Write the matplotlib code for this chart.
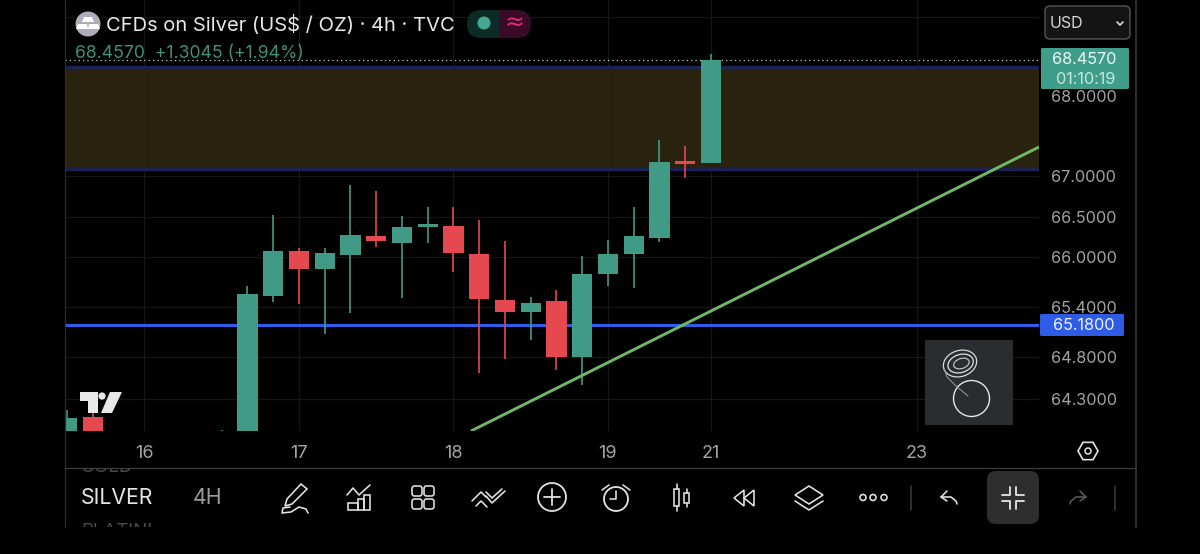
import matplotlib
matplotlib.use("Agg")
import matplotlib.pyplot as plt
from matplotlib.patches import Rectangle, FancyBboxPatch, Circle, Ellipse, Polygon, RegularPolygon
from matplotlib.ticker import NullLocator, NullFormatter

plt.rcParams['font.family'] = ['Inter', 'DejaVu Sans']

# ---- data (4h bars; index 0 = first bar of the 17th) ----
bar_index = [-9, -8, -3, -2, -1, 0, 1, 2, 3, 4, 5, 6, 7, 8, 9, 10, 11, 12, 13, 14, 15, 16]
opens  = [63.50, 64.079, 63.60, 63.50, 65.529, 66.080, 65.864, 66.035, 66.259, 66.181, 66.377, 66.389, 66.047, 65.484, 65.336, 65.469, 64.799, 65.800, 66.043, 66.239, 67.185, 67.159]
closes = [64.073, 63.50, 63.85, 65.555, 66.080, 65.864, 66.055, 66.275, 66.198, 66.373, 66.407, 66.059, 65.493, 65.343, 65.444, 64.799, 65.803, 66.047, 66.267, 67.176, 67.155, 68.457]
highs  = [64.168, 64.132, 63.931, 65.650, 66.521, 66.113, 66.113, 66.887, 66.820, 66.512, 66.615, 66.623, 66.459, 66.198, 65.524, 65.605, 66.015, 66.214, 66.619, 67.449, 67.378, 68.530]
lows   = [63.50, 63.50, 63.50, 63.50, 65.464, 65.432, 65.078, 65.331, 66.132, 65.505, 66.174, 65.827, 64.602, 64.775, 64.999, 64.647, 64.465, 65.650, 65.626, 66.190, 66.981, 67.159]

price_ticks = [64.3, 64.8, 65.4, 66.0, 66.5, 67.0, 68.0, 69.0]
price_labels = ['64.3000', '64.8000', '65.4000', '66.0000', '66.5000', '67.0000', '68.0000', '']
date_pos = [-6, 0, 6, 12, 16, 24]
date_labels = ['16', '17', '18', '19', '21', '23']

zone_low, zone_high = 67.084, 68.366
support_level = 65.18
last_price = 68.457
trend_x = [6.68, 28.74]
trend_y = [63.917, 67.362]

GREEN = '#419a86'
RED = '#e5484f'
GRID = '#171717'
LABEL = '#a3a3a3'
ICON = '#e4e4e4'
W, H = 1200, 554

fig = plt.figure(figsize=(W / 100, H / 100), dpi=100, facecolor='black')
ax = fig.add_axes([65 / W, 1 - 431 / H, (1039 - 65) / W, 431 / H], facecolor='black')
ax.set_yscale('log')
ax.set_xlim(-9.087, 28.738)
ax.set_ylim(63.917, 69.217)

ax.grid(True, color=GRID, lw=0.9, zorder=1)
ax.set_axisbelow(True)
ax.axhspan(zone_low, zone_high, facecolor='#2e2611', edgecolor='none', alpha=0.9, zorder=1.5)
for lvl in (zone_low, zone_high):
    ax.axhline(lvl, color='#1b2152', lw=2.4, zorder=1.6)

ax.set_xticks(date_pos, date_labels)
ax.set_yticks(price_ticks, price_labels)
ax.yaxis.set_minor_locator(NullLocator())
ax.yaxis.set_minor_formatter(NullFormatter())
ax.yaxis.tick_right()
ax.tick_params(axis='y', length=0, pad=9, labelsize=11.7, labelcolor=LABEL)
ax.tick_params(axis='x', length=0, pad=10, labelsize=13, labelcolor=LABEL)
for s in ax.spines.values():
    s.set_visible(False)

ax.axhline(support_level, color='#2f5ce6', lw=2.2, zorder=2)
ax.axhline(last_price, color='#a8d8cc', lw=0.9, ls=(0, (1, 2.5)), zorder=2)

for x, o, c, h, l in zip(bar_index, opens, closes, highs, lows):
    col = GREEN if c >= o else RED
    ax.vlines(x, l, h, color=col, lw=1.2, zorder=3)
    ax.bar(x, abs(c - o), bottom=min(o, c), width=0.78, color=col, lw=0, zorder=4)

ax.plot(trend_x, trend_y, color='#6fb863', lw=2.1, zorder=5, solid_capstyle='butt')

# ---- interface overlay in pixel coordinates ----
ui = fig.add_axes([0, 0, 1, 1], facecolor='none')
ui.set_xlim(0, W)
ui.set_ylim(H, 0)
ui.axis('off')


def ln(xs, ys, c=ICON, lw=1.15, **kw):
    ui.plot(xs, ys, color=c, lw=lw, solid_capstyle='round', solid_joinstyle='round', **kw)


def rbox(x0, y0, x1, y1, r, fc, ec='none', lw=0, **kw):
    p = FancyBboxPatch((x0 + r, y0 + r), x1 - x0 - 2 * r, y1 - y0 - 2 * r,
                       boxstyle=f'round,pad={r},rounding_size={r}', fc=fc, ec=ec, lw=lw, **kw)
    ui.add_patch(p)
    return p


ln([65, 65], [0, 527], '#2c2c2c', 0.9)
ln([1136, 1136], [0, 527], '#383838', 1.2)
ln([65, 1136], [468, 468], '#3d3d3d', 0.9)

# header
ui.add_patch(Circle((88, 24), 12.5, fc='#aeadb9', ec='none'))
ui.add_patch(Polygon([[84, 17], [92, 17], [94, 22], [82, 22]], fc='white'))
ui.add_patch(Polygon([[78, 24], [87, 24], [88, 29], [76, 29]], fc='white'))
ui.add_patch(Polygon([[89, 24], [98, 24], [100, 29], [88, 29]], fc='white'))
ui.text(106, 24.5, 'CFDs on Silver (US$ / OZ) · 4h · TVC', color='#e8e8e8', fontsize=14.5, va='center', ha='left')
ui.text(75, 53.5, '68.4570  +1.3045 (+1.94%)', color='#3f8f7c', fontsize=12.7, va='center', ha='left')

clipL = Rectangle((467, 9), 32, 30, transform=ui.transData)
clipR = Rectangle((499, 9), 34, 30, transform=ui.transData)
rbox(467, 10, 531, 38, 14, '#0c2b25').set_clip_path(clipL)
rbox(467, 10, 531, 38, 14, '#3a0a26').set_clip_path(clipR)
ui.add_patch(Circle((484, 23), 6.5, fc='#45a890', ec='none'))
ui.text(514, 23, '≈', color='#d92f72', fontsize=17, va='center', ha='center', family='DejaVu Sans')

# currency box
rbox(1045, 6, 1130, 39, 5, '#141414', ec='#565656', lw=1)
ui.text(1050, 23, 'USD', color='#d6d6d6', fontsize=11.5, va='center', ha='left')
ln([1117, 1120, 1123], [22, 25, 22], '#dddddd', 1.2)

# price tags
rbox(1041, 48, 1129, 89, 1.5, '#3f9e8a')
ui.text(1084, 60, '68.4570', color='#eef8f5', fontsize=11.7, va='center', ha='center')
ui.text(1086, 79, '01:10:19', color='#c8e6df', fontsize=11.7, va='center', ha='center')
rbox(1040, 314, 1124, 336, 1.5, '#2f5ce6')
ui.text(1084, 325.5, '65.1800', color='#eef2ff', fontsize=11.7, va='center', ha='center')

# TradingView mark
ui.add_patch(Polygon([[80, 392], [98, 392], [98, 413], [88, 413], [88, 401], [80, 401]], fc='#e8e8e8', ec='none', zorder=6))
ui.add_patch(Circle((102, 396), 3.6, fc='#e8e8e8', ec='none', zorder=6))
ui.add_patch(Polygon([[110, 392], [122, 392], [112, 413], [101, 413]], fc='#e8e8e8', ec='none', zorder=6))

# avatar
ui.add_patch(Rectangle((925, 340), 88, 85, fc='#2b2c2f', ec='none'))
ui.add_patch(Circle((971.5, 398.5), 18, fc='none', ec='#e6e6e6', lw=1.0))
for w, h_, c in ((34, 26, '#d8d8d8'), (26, 18, '#e2e2e2'), (16, 10, '#bdbdbd')):
    ui.add_patch(Ellipse((960 + (34 - w) * 0.08, 363.5), w, h_, angle=-18, fc='none', ec=c, lw=0.9))
ln([944, 947, 956, 968], [368, 377, 386, 396], '#9a9a9a', 0.7)

# settings hexagon
ui.add_patch(RegularPolygon((1088, 451), 6, radius=10, orientation=0.5236, fc='none', ec=ICON, lw=1.2))
ui.add_patch(Circle((1088, 451), 3, fc='none', ec=ICON, lw=1.1))

# symbol list
t = ui.text(81, 468, 'GOLD', color='#4a4a4a', fontsize=13.5, va='center', ha='left', clip_on=True)
t.set_clip_path(Rectangle((65, 469), 140, 58, transform=ui.transData))
t = ui.text(81, 531, 'PLATINUM', color='#4a4a4a', fontsize=13.5, va='center', ha='left', clip_on=True)
t.set_clip_path(Rectangle((65, 469), 88, 58, transform=ui.transData))
ui.text(81, 498, 'SILVER', color='#e6e6e6', fontsize=15.3, va='center', ha='left')
ui.text(193, 498, '4H', color='#9a9a9a', fontsize=15.3, va='center', ha='left')

# pen
ui.add_patch(Polygon([[301, 484], [307, 489], [292, 504], [285, 506], [287, 499]], fc='none', ec=ICON, lw=1.15))
ln([290, 283, 282, 291, 299, 306, 308], [507, 508, 513, 512, 507, 509, 513])
# chart + bars
ln([347, 353, 359, 370], [495, 488, 495, 485])
for x0, x1, y0 in ((348, 358, 503), (358, 364, 499), (364, 370, 495)):
    ui.add_patch(Rectangle((x0, y0), x1 - x0, 509.5 - y0, fc='none', ec=ICON, lw=1.15))
# grid
for cx in (417, 429):
    for cy in (491, 504):
        ui.add_patch(FancyBboxPatch((cx - 3, cy - 3), 6, 6, boxstyle='round,pad=2,rounding_size=2.5', fc='none', ec=ICON, lw=1.15))
# indicators zig-zag
ln([472, 481, 486], [501, 492, 497])
ln([476, 481, 487], [506, 501, 507])
ln([486, 492, 502], [492, 498, 489])
ln([486, 492, 505], [496, 503, 491])
# plus
ui.add_patch(Circle((552, 497), 14, fc='none', ec=ICON, lw=1.3))
ln([544, 560], [497, 497], lw=1.3)
ln([552, 552], [489, 505], lw=1.3)
# alarm
ui.add_patch(Circle((616, 499), 12, fc='none', ec=ICON, lw=1.3))
ln([616, 616, 610], [491, 499, 499])
ln([602, 609], [490, 485])
ln([630, 623], [490, 485])
# candles
ui.add_patch(Rectangle((674, 489), 5, 17, fc='none', ec=ICON, lw=1.15))
ln([676.5, 676.5], [484, 489])
ln([676.5, 676.5], [506, 511])
ui.add_patch(Rectangle((684, 493), 5, 10, fc='none', ec=ICON, lw=1.15))
ln([686.5, 686.5], [489, 493])
ln([686.5, 686.5], [503, 507])
# rewind
ui.add_patch(Polygon([[734, 498], [744, 490], [744, 506]], fc='none', ec=ICON, lw=1.15))
ui.add_patch(Polygon([[744, 498], [754, 490], [754, 506]], fc='none', ec=ICON, lw=1.15))
# layers
ui.add_patch(Polygon([[795, 495], [809, 486], [823, 495], [809, 504]], fc='none', ec=ICON, lw=1.15))
ln([795, 809, 823], [501, 510, 501])
# more
for cx in (863, 873, 884):
    ui.add_patch(Circle((cx, 497.5), 3, fc='none', ec=ICON, lw=1.15))
ln([911, 911], [486, 510], '#3d3d3d', 1.1)
# undo
ln([947, 941, 947], [491, 497, 501])
ln([941, 951, 956, 957], [497, 497, 501, 504])
# compress
rbox(987, 471, 1039, 524, 9, '#2e2e2e')
for sx in (-1, 1):
    for sy in (-1, 1):
        ln([1013 + sx * 11, 1013 + sx * 3, 1013 + sx * 3], [497.5 + sy * 3, 497.5 + sy * 3, 497.5 + sy * 11], '#e8e8e8', 1.3)
# redo
ln([1080, 1086, 1080], [491, 497, 501], '#5a5a5a')
ln([1086, 1076, 1071, 1070], [497, 497, 501, 504], '#5a5a5a')
ln([1115, 1115], [486, 510], '#3d3d3d', 1.1)

fig.savefig('out.png', dpi=100, facecolor='black')
